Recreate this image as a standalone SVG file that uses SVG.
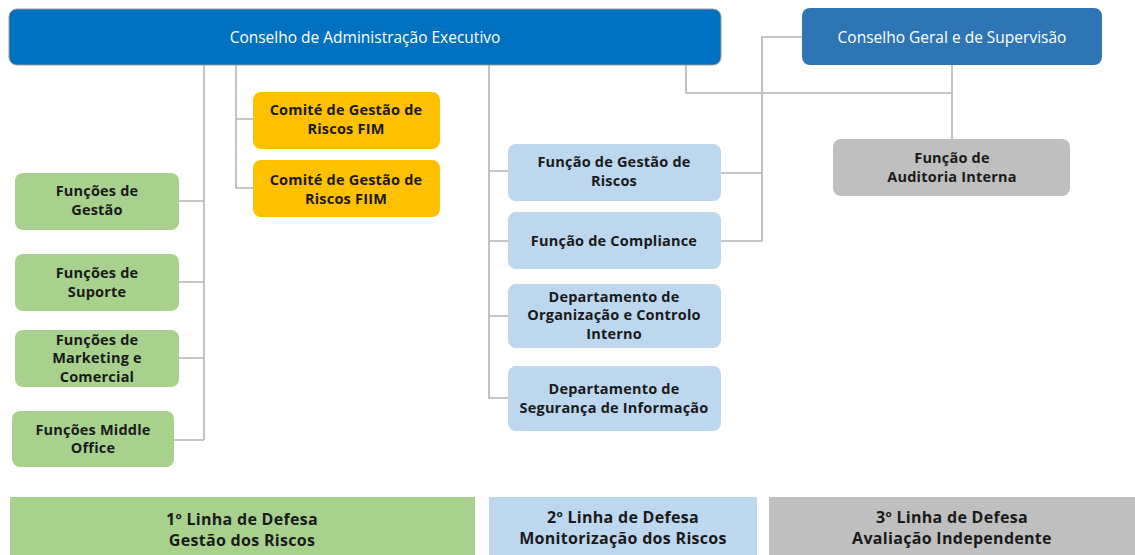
<svg xmlns="http://www.w3.org/2000/svg" width="1135" height="555" viewBox="0 0 1135 555">
<style>
.t{font-family:"Open Sans","Liberation Sans",sans-serif;font-size:14.5px;font-weight:bold;fill:#1a1a1a;text-anchor:middle;letter-spacing:0.2px}
.w{font-family:"Open Sans","Liberation Sans",sans-serif;font-size:15.5px;font-weight:500;fill:#ffffff;text-anchor:middle}
.b{font-family:"Open Sans","Liberation Sans",sans-serif;font-size:16px;font-weight:bold;fill:#1a1a1a;text-anchor:middle;letter-spacing:0.3px}
.g{fill:#A9D18E}
.o{fill:#FFC000}
.l{fill:#BDD7EE}
.y{fill:#BFBFBF}
.c{fill:none;stroke:#B4B4B4;stroke-width:1.6}
</style>
<g id="connectors">
<path class="c" d="M204,65 V440 M179,201 H204 M179,282 H204 M179,358 H204 M174,440 H204"/>
<path class="c" d="M236,65 V188 H253 M236,119 H253"/>
<path class="c" d="M489,65 V398 H508 M489,171 H508 M489,241 H508 M489,316 H508"/>
<path class="c" d="M686,65 V93 H952 M952,65 V139"/>
<path class="c" d="M802,37 H762 V241 H721 M721,173 H762"/>
</g>
<g id="cae"><rect x="9" y="9" width="712" height="56" rx="8" fill="#0070C0" stroke="#9a9a9a" stroke-width="1"/><text class="w" x="365" y="43">Conselho de Administração Executivo</text></g>
<g id="cgs"><rect x="802" y="8" width="300" height="57" rx="8" fill="#2E75B6"/><text class="w" x="952" y="43">Conselho Geral e de Supervisão</text></g>
<g id="comite1"><rect class="o" x="253" y="92" width="187" height="57" rx="8"/><text class="t" x="346" y="115">Comité de Gestão de</text><text class="t" x="346" y="134">Riscos FIM</text></g>
<g id="comite2"><rect class="o" x="253" y="160" width="187" height="57" rx="8"/><text class="t" x="346" y="185">Comité de Gestão de</text><text class="t" x="346" y="204">Riscos FIIM</text></g>
<g id="fgestao"><rect class="g" x="15" y="173" width="164" height="57" rx="8"/><text class="t" x="97" y="196">Funções de</text><text class="t" x="97" y="215">Gestão</text></g>
<g id="fsuporte"><rect class="g" x="15" y="254" width="164" height="57" rx="8"/><text class="t" x="97" y="278">Funções de</text><text class="t" x="97" y="297">Suporte</text></g>
<g id="fmarketing"><rect class="g" x="15" y="330" width="164" height="57" rx="8"/><text class="t" x="97" y="345">Funções de</text><text class="t" x="97" y="363">Marketing e</text><text class="t" x="97" y="382">Comercial</text></g>
<g id="fmiddle"><rect class="g" x="12" y="411" width="162" height="56" rx="8"/><text class="t" x="93" y="435">Funções Middle</text><text class="t" x="93" y="453">Office</text></g>
<g id="fgr"><rect class="l" x="508" y="144" width="213" height="57" rx="8"/><text class="t" x="614" y="167">Função de Gestão de</text><text class="t" x="614" y="186">Riscos</text></g>
<g id="fcomp"><rect class="l" x="508" y="212" width="213" height="57" rx="8"/><text class="t" x="614" y="246">Função de Compliance</text></g>
<g id="doci"><rect class="l" x="508" y="284" width="213" height="64" rx="8"/><text class="t" x="614" y="302">Departamento de</text><text class="t" x="614" y="320">Organização e Controlo</text><text class="t" x="614" y="339">Interno</text></g>
<g id="dsi"><rect class="l" x="508" y="366" width="213" height="65" rx="8"/><text class="t" x="614" y="394">Departamento de</text><text class="t" x="614" y="413">Segurança de Informação</text></g>
<g id="audit"><rect class="y" x="833" y="139" width="237" height="57" rx="8"/><text class="t" x="952" y="163">Função de</text><text class="t" x="952" y="182">Auditoria Interna</text></g>
<g id="linha1"><rect class="g" x="10" y="497" width="465" height="58"/><text class="b" x="242" y="525">1º Linha de Defesa</text><text class="b" x="242" y="546">Gestão dos Riscos</text></g>
<g id="linha2"><rect class="l" x="489" y="497" width="268" height="58"/><text class="b" x="623" y="523">2º Linha de Defesa</text><text class="b" x="623" y="544">Monitorização dos Riscos</text></g>
<g id="linha3"><rect class="y" x="769" y="497" width="366" height="58"/><text class="b" x="952" y="523">3º Linha de Defesa</text><text class="b" x="952" y="544">Avaliação Independente</text></g>
</svg>
